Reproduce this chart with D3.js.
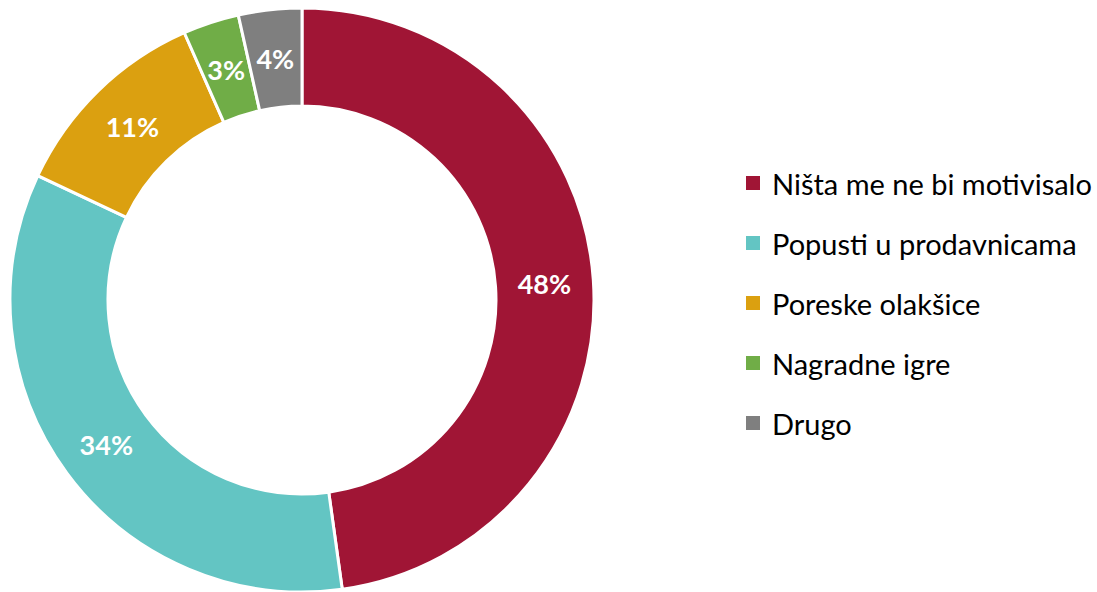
<!DOCTYPE html>
<html><head><meta charset="utf-8">
<script src="https://cdn.jsdelivr.net/npm/d3@7"></script>
<style>body{margin:0;background:#fff;}svg{display:block;}</style>
</head><body>
<svg id="c" width="1097" height="592"></svg>
<script>
const categories = ["Ništa me ne bi motivisalo","Popusti u prodavnicama","Poreske olakšice","Nagradne igre","Drugo"];
const values = [47.8, 34.2, 11.4, 3.1, 3.5];
const labels = ["48%","34%","11%","3%","4%"];
const colors = ["#A01535","#63C5C3","#DBA010","#70AD47","#7F7F7F"];

const svg = d3.select("#c");
const cx = 302, cy = 300, rOut = 292, rIn = 194;
const pie = d3.pie().sort(null).value(d => d.v);
const data = categories.map((c,i)=>({c, v: values[i], l: labels[i], col: colors[i]}));
const arcs = pie(data);
const arc = d3.arc().innerRadius(rIn).outerRadius(rOut);
const g = svg.append("g").attr("transform",`translate(${cx},${cy})`);
g.selectAll("path").data(arcs).join("path")
  .attr("d", arc).attr("fill", d => d.data.col)
  .attr("stroke","#fff").attr("stroke-width",3);
const lab = d3.arc().innerRadius((rIn+rOut)/2).outerRadius((rIn+rOut)/2);
g.selectAll("text").data(arcs).join("text")
  .attr("transform", d => `translate(${lab.centroid(d)})`)
  .attr("text-anchor","middle").attr("dominant-baseline","central")
  .attr("fill","#fff").attr("font-family","Lato, 'Open Sans', sans-serif")
  .attr("font-weight","bold").attr("font-size",27)
  .text(d => d.data.l);

const leg = svg.append("g");
const ly = d3.scalePoint().domain(categories).range([183, 423]);
const items = leg.selectAll("g").data(data).join("g")
  .attr("transform", d => `translate(746,${ly(d.c)})`);
items.append("rect").attr("x",0).attr("y",-7).attr("width",14).attr("height",14).attr("fill", d => d.col);
items.append("text").attr("x",26).attr("y",0).attr("dominant-baseline","central")
  .attr("font-family","Lato, 'Open Sans', sans-serif").attr("font-size",29).attr("fill","#000")
  .text(d => d.c);
</script>
</body></html>
